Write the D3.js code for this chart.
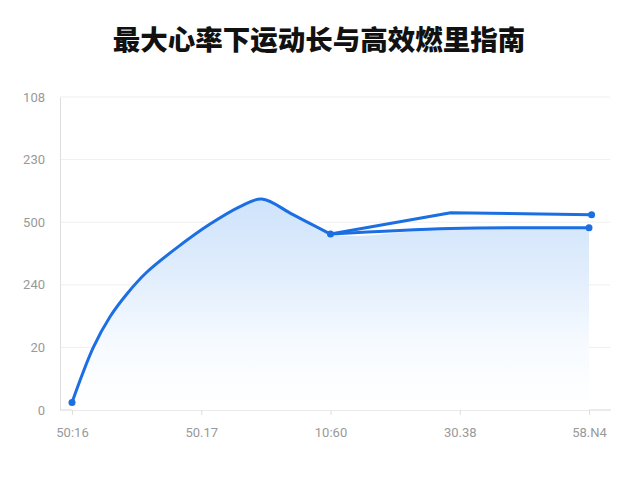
<!DOCTYPE html>
<html>
<head>
<meta charset="utf-8">
<script src="https://cdn.jsdelivr.net/npm/d3@7"></script>
<style>
  body { margin: 0; background: #fff; }
  text { font-family: "Noto Sans CJK SC", "Noto Sans", sans-serif; }
</style>
</head>
<body>
<div id="chart"></div>
<script>
// tick labels as printed on the chart
var xLabels = ["50:16", "50.17", "10:60", "30.38", "58.N4"];
var yLabels = ["0", "20", "240", "500", "230", "108"];

// main trace (x, y in tick-slot units)
var mainX = [0, 0.165, 0.294, 0.423, 0.578, 0.81, 1.068, 1.30, 1.468, 1.71, 2.0];
var mainY = [0.12, 1.0, 1.49, 1.85, 2.20, 2.59, 2.97, 3.25, 3.37, 3.12, 2.81];
// two branches after the dip
var upperX = [2.0, 2.93, 4.02];
var upperY = [2.81, 3.15, 3.12];
var lowerX = [2.0, 2.93, 4.0];
var lowerY = [2.81, 2.90, 2.91];

var width = 640, height = 480;
var svg = d3.select("#chart").append("svg")
  .attr("width", width)
  .attr("height", height);

var x = d3.scaleLinear().domain([0, 4]).range([72, 589]);
var y = d3.scaleLinear().domain([0, 5]).range([410, 97]);

function zipPts(xs, ys) {
  return xs.map(function(d, i) { return [d, ys[i]]; });
}
var mainPts = zipPts(mainX, mainY);
var upperPts = zipPts(upperX, upperY);
var lowerPts = zipPts(lowerX, lowerY);

// gradient for the area
var defs = svg.append("defs");
var grad = defs.append("linearGradient")
  .attr("id", "fillGrad")
  .attr("gradientUnits", "userSpaceOnUse")
  .attr("x1", 0).attr("y1", 199).attr("x2", 0).attr("y2", 410);
grad.append("stop").attr("offset", "0%").attr("stop-color", "#cfe3fb");
grad.append("stop").attr("offset", "35%").attr("stop-color", "#e0edfc");
grad.append("stop").attr("offset", "70%").attr("stop-color", "#f7fbff");
grad.append("stop").attr("offset", "100%").attr("stop-color", "#ffffff");

// gridlines
svg.append("g")
  .selectAll("line")
  .data(d3.range(1, yLabels.length))
  .enter().append("line")
  .attr("x1", 60).attr("x2", 610)
  .attr("y1", function(d) { return y(d); })
  .attr("y2", function(d) { return y(d); })
  .attr("stroke", "#efefef")
  .attr("stroke-width", 1);

// y axis
var yAxis = d3.axisLeft(y)
  .tickValues(d3.range(yLabels.length))
  .tickFormat(function(d) { return yLabels[d]; })
  .tickSize(0)
  .tickPadding(15);
var gy = svg.append("g")
  .attr("transform", "translate(60,0)")
  .call(yAxis);
gy.select(".domain").attr("stroke", "#dedede");
gy.selectAll("text")
  .attr("fill", "#999")
  .style("font-size", "13px")
  .style("font-family", "Roboto, 'Noto Sans', sans-serif");

// x axis
var xAxis = d3.axisBottom(x)
  .tickValues(d3.range(xLabels.length))
  .tickFormat(function(d) { return xLabels[d]; })
  .tickSize(5)
  .tickPadding(13);
var gx = svg.append("g")
  .attr("transform", "translate(0,410)")
  .call(xAxis);
gx.select(".domain")
  .attr("d", "M60,0H611")
  .attr("stroke", "#d8d8d8");
gx.selectAll(".tick line").attr("stroke", "#dedede");
gx.selectAll("text")
  .attr("fill", "#999")
  .style("font-size", "13px")
  .style("font-family", "Roboto, 'Noto Sans', sans-serif");

var smooth = d3.line()
  .x(function(d) { return x(d[0]); })
  .y(function(d) { return y(d[1]); })
  .curve(d3.curveCatmullRom.alpha(0.5));

var straight = d3.line()
  .x(function(d) { return x(d[0]); })
  .y(function(d) { return y(d[1]); });

// area under the main trace + lower branch
var area = d3.area()
  .x(function(d) { return x(d[0]); })
  .y0(y(0))
  .y1(function(d) { return y(d[1]); })
  .curve(d3.curveCatmullRom.alpha(0.5));
svg.append("path")
  .datum(mainPts.concat(lowerPts.slice(1)))
  .attr("d", area)
  .attr("fill", "url(#fillGrad)");

var lineColor = "#1b6fe3";
function drawLine(pts, gen) {
  svg.append("path")
    .datum(pts)
    .attr("d", gen)
    .attr("fill", "none")
    .attr("stroke", lineColor)
    .attr("stroke-width", 3)
    .attr("stroke-linecap", "round")
    .attr("stroke-linejoin", "round");
}
drawLine(mainPts, smooth);
drawLine(upperPts, straight);
drawLine(lowerPts, smooth);

// dots at start, dip and ends
var dots = [mainPts[0], mainPts[mainPts.length - 1], upperPts[upperPts.length - 1], lowerPts[lowerPts.length - 1]];
svg.append("g")
  .selectAll("circle")
  .data(dots)
  .enter().append("circle")
  .attr("cx", function(d) { return x(d[0]); })
  .attr("cy", function(d) { return y(d[1]); })
  .attr("r", 3.5)
  .attr("fill", lineColor);

// title
svg.append("text")
  .attr("x", 319)
  .attr("y", 50)
  .attr("text-anchor", "middle")
  .style("font-size", "27.5px")
  .style("font-weight", "900")
  .attr("fill", "#111")
  .text("最大心率下运动长与高效燃里指南");
</script>
</body>
</html>
